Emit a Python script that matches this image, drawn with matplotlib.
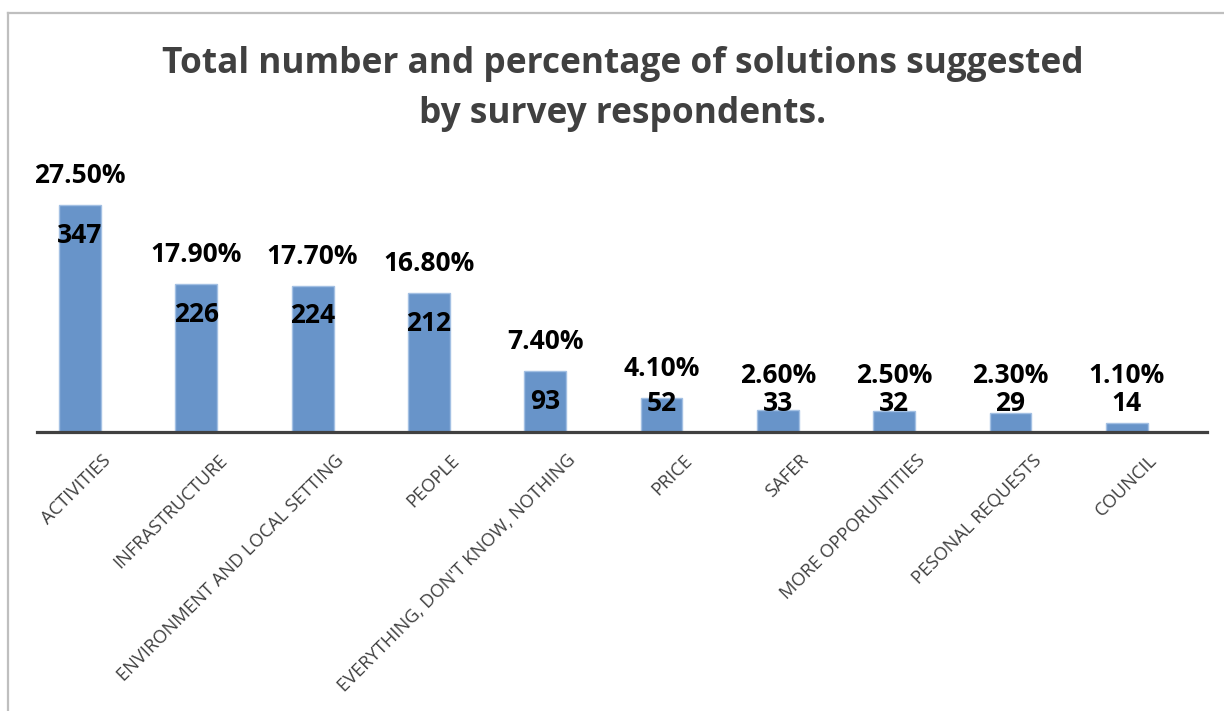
import numpy as np
import matplotlib
matplotlib.use("Agg")
import matplotlib.pyplot as plt
import matplotlib.transforms as mtrans
from matplotlib.lines import Line2D

# data
categories = ["ACTIVITIES", "INFRASTRUCTURE", "ENVIRONMENT AND LOCAL SETTING",
              "PEOPLE", "EVERYTHING, DON'T KNOW, NOTHING", "PRICE", "SAFER",
              "MORE OPPORUNTITIES", "PESONAL REQUESTS", "COUNCIL"]
counts = [347, 226, 224, 212, 93, 52, 33, 32, 29, 14]
percents = ["27.50%", "17.90%", "17.70%", "16.80%", "7.40%",
            "4.10%", "2.60%", "2.50%", "2.30%", "1.10%"]

title = "Total number and percentage of solutions suggested\nby survey respondents."

W, H = 1224, 711
fig = plt.figure(figsize=(W / 100, H / 100), dpi=100)
fig.patch.set_facecolor("white")

# axes placed so the baseline sits where the reference has it
ax_l, ax_r = 37 / W, 1207 / W
ax_b = 1 - 432 / H
ymax = 400
ax_h = ymax * 0.654 / H
ax = fig.add_axes([ax_l, ax_b, ax_r - ax_l, ax_h])

x = np.arange(len(categories))
ax.bar(x, counts, width=0.36, color="#6894c9", edgecolor="#a3c0e3", linewidth=1, zorder=2)

ax.set_xlim(-0.37, 9.69)
ax.set_ylim(0, ymax)

for s in ["top", "right", "left"]:
    ax.spines[s].set_visible(False)
ax.spines["bottom"].set_color("#404040")
ax.spines["bottom"].set_linewidth(2.3)
ax.spines["bottom"].set_zorder(3)
ax.set_yticks([])
ax.set_xticks(x)
ax.set_xticklabels(categories, rotation=45, ha="right", va="center",
                   rotation_mode="anchor", fontsize=13.2, color="#404040",
                   family="Open Sans")
ax.tick_params(axis="x", length=0, pad=18.5)

# label ends sit a little right of the bar centre
shift = mtrans.ScaledTranslation(0.28, 0, fig.dpi_scale_trans)
for lab in ax.get_xticklabels():
    lab.set_transform(lab.get_transform() + shift)

# labels: count just inside the bar top, percentage above it
for xi, v, p in zip(x, counts, percents):
    cy = max(v - 46, 43)
    py = max(v + 45, cy + 44)
    ax.text(xi, cy, str(v), ha="center", va="center", fontsize=19,
            fontweight="bold", family="Open Sans", color="black", zorder=4)
    ax.text(xi, py, p, ha="center", va="center", fontsize=19,
            fontweight="bold", family="Open Sans", color="black", zorder=4)

fig.text(623 / W, 1 - 89 / H, title, ha="center", va="center", fontsize=25.4,
         fontweight="bold", family="Open Sans", color="#404040", linespacing=1.55)

# chart area border (top and left visible in the reference)
border = "#bfbfbf"
fig.add_artist(Line2D([8 / W, 1], [1 - 13 / H, 1 - 13 / H], color=border, lw=1.6))
fig.add_artist(Line2D([8 / W, 8 / W], [0, 1 - 13 / H], color=border, lw=1.6))

fig.savefig("out.png", dpi=100)
